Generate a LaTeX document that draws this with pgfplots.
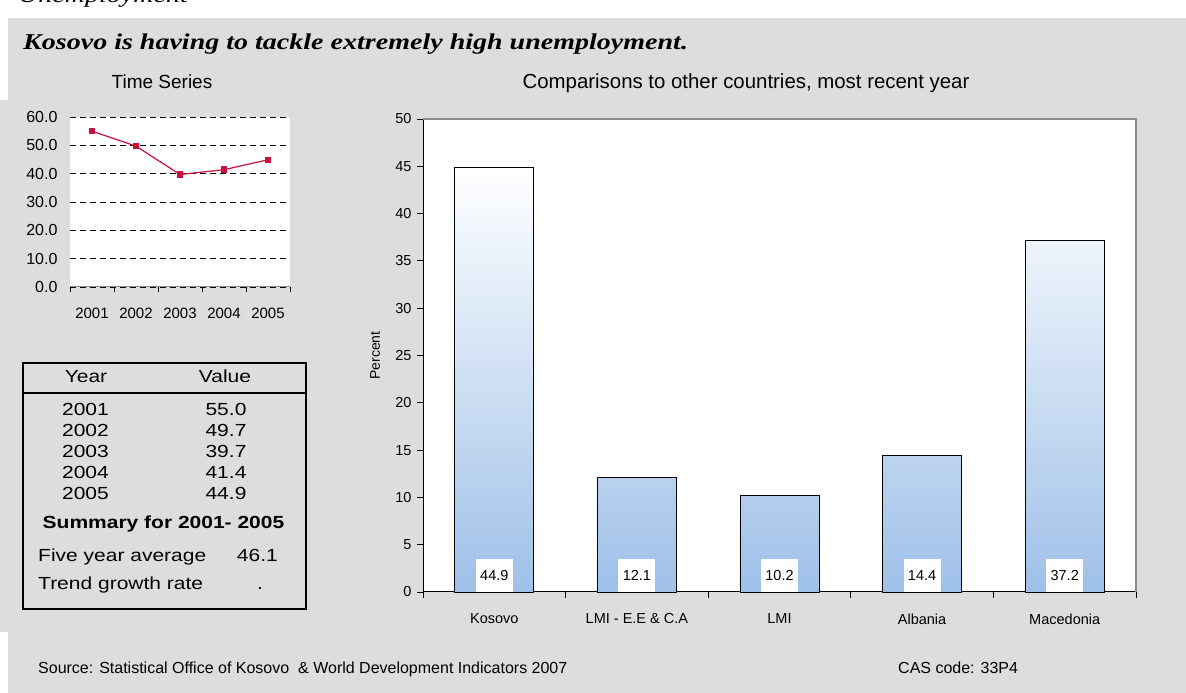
\documentclass[border=0pt]{standalone}
\usepackage{pgfplots}
\pgfplotsset{compat=1.18}
\usepackage{pgfplotstable}
\usepackage{fontspec}
\setmainfont{Liberation Sans}
\newfontfamily\seriffont{Liberation Serif}
\newfontfamily\titlefont[FakeStretch=1.24]{Liberation Serif}
\newfontfamily\widefont[FakeStretch=1.2]{Liberation Sans}
\definecolor{bg}{RGB}{221,221,221}
\definecolor{barblue}{RGB}{158,192,232}
\definecolor{linered}{RGB}{200,16,60}
\definecolor{framegray}{RGB}{140,140,140}
\newcommand{\fs}[1]{\fontsize{#1pt}{#1pt}\selectfont}

\pgfplotstableread{
x v
0 44.9
1 12.1
2 10.2
3 14.4
4 37.2
}\bardata
\pgfplotstableread{
x v
0 55.0
1 49.7
2 39.7
3 41.4
4 44.9
}\tsdata

\begin{document}
\begin{tikzpicture}[x=1pt,y=1pt]
\useasboundingbox (0,0) rectangle (1186,693);
\fill[white] (0,0) rectangle (1186,693);
\fill[bg] (8,0) rectangle (1186,675);
\fill[bg] (0,61) rectangle (8,593);
\begin{scope}
\clip (0,675) rectangle (1186,693);
\node[anchor=base west, inner sep=0, font=\titlefont\itshape\fs{22.6}] at (18,690) {Unemployment};
\end{scope}
\node[anchor=base west, inner sep=0, font=\titlefont\bfseries\itshape\fs{22.6}] at (23,643) {Kosovo is having to tackle extremely high unemployment.};
\node[anchor=base, inner sep=0, font=\fs{19}] at (162,604) {Time Series};
\node[anchor=base, inner sep=0, font=\fs{20.4}] at (746,604) {Comparisons to other countries, most recent year};

% time series chart
\begin{axis}[at={(70pt,406pt)}, anchor=south west, scale only axis,
  width=220pt, height=170pt,
  xmin=-0.5, xmax=4.5, ymin=0, ymax=60,
  ytick={0,10,...,60}, xtick={0,...,4},
  xticklabels={2001,2002,2003,2004,2005},
  minor xtick={-0.5,0.5,...,4.5},
  major tick length=0pt, minor tick length=5pt, tick align=outside,
  axis x line*=bottom, axis y line*=left,
  x axis line style={draw=framegray, line width=1pt, -},
  y axis line style={draw=none},
  xtick style={draw=black, line width=0.8pt},
  ymajorgrids, grid style={black, line width=0.9pt, dash pattern=on 6pt off 4pt},
  axis background/.style={fill=white},
  tick label style={font=\fs{16}},
  xticklabel style={font=\fs{15}, yshift=-17pt},
  yticklabel style={/pgf/number format/fixed, /pgf/number format/fixed zerofill, /pgf/number format/precision=1, /pgf/number format/assume math mode=true, xshift=-9pt},
  clip=false]
\addplot[linered, line width=1.2pt, mark=square*, mark size=2.6pt] table[x=x,y=v]{\tsdata};
\end{axis}

% table
\draw[black, line width=2pt] (23,84) rectangle (306,330);
\draw[black, line width=1.5pt] (23,300) -- (306,300);
\begin{scope}[every node/.style={inner sep=0, font=\widefont\fs{17.5}}]
\node[anchor=base] at (86,310) {Year};
\node[anchor=base] at (225,310) {Value};
\foreach \yy/\vv/\b in {2001/55.0/277, 2002/49.7/256, 2003/39.7/235, 2004/41.4/214, 2005/44.9/193}{
  \node[anchor=base] at (85.5,\b) {\yy};
  \node[anchor=base] at (226,\b) {\vv};
}
\node[anchor=base, font=\widefont\bfseries\fs{17.5}] at (163.5,164) {Summary for 2001- 2005};
\node[anchor=base west] at (38,131) {Five year average};
\node[anchor=base east] at (278,131) {46.1};
\node[anchor=base west] at (38,103) {Trend growth rate};
\node[anchor=base] at (260,103) {.};
\end{scope}

% bar chart
\begin{axis}[at={(423pt,101pt)}, anchor=south west, scale only axis,
  width=713pt, height=473pt,
  xmin=-0.5, xmax=4.5, ymin=0, ymax=50,
  ytick={0,5,...,50}, xtick={0,...,4},
  xticklabels={Kosovo,LMI - E.E \& C.A,LMI,Albania,Macedonia},
  minor xtick={-0.5,0.5,...,4.5},
  major tick length=6pt, minor tick length=6pt, tick align=outside,
  axis x line*=bottom, axis y line*=left,
  axis line style={black, line width=1pt, -},
  tick style={black, line width=0.8pt},
  major x tick style={draw=none},
  axis background/.style={fill=white},
  tick label style={font=\fs{14.5}},
  xticklabel style={yshift=-12pt},
  yticklabel style={/pgf/number format/assume math mode=true, xshift=-2pt},
  ylabel={Percent},
  every axis y label/.style={at={(axis description cs:-0.0673,0.5)}, rotate=90, anchor=center, font=\fs{14}},
  clip=false]
\addplot[ybar, bar width=0.555, draw=black, line width=0.8pt, top color=white, bottom color=barblue] table[x=x,y=v]{\bardata};
\addplot[draw=none, nodes near coords, point meta=explicit symbolic,
  every node near coord/.style={anchor=south, fill=white, inner sep=0pt, minimum width=37pt, minimum height=33pt, font=\fs{14.5}, text=black}]
  table[x=x, y expr=0, meta=v]{\bardata};
\draw[framegray, line width=1.5pt] (rel axis cs:0,1) -- (rel axis cs:1,1) -- (rel axis cs:1,0);
\end{axis}

\node[anchor=base west, inner sep=0, font=\fs{16}] at (38,19) {Source: Statistical Office of Kosovo \ \& World Development Indicators 2007};
\node[anchor=base west, inner sep=0, font=\fs{16}] at (898,19) {CAS code: 33P4};
\end{tikzpicture}
\end{document}
